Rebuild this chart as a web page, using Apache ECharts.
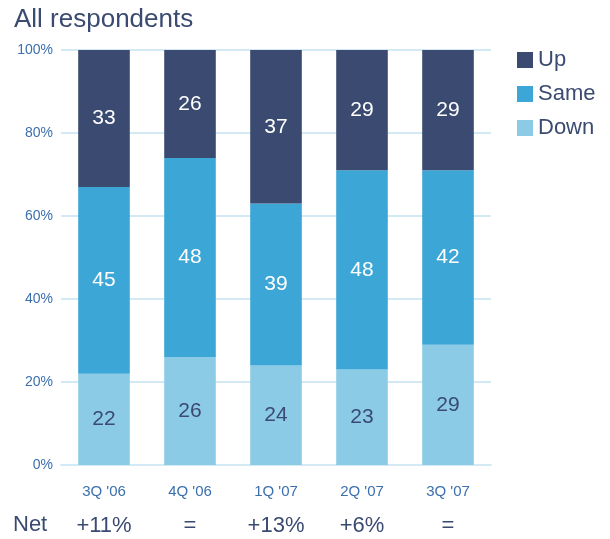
<!DOCTYPE html>
<html>
<head>
<meta charset="utf-8">
<style>
  html, body { margin: 0; padding: 0; background: #fff; }
  #chart { width: 610px; height: 539px; }
</style>
<script src="https://cdn.jsdelivr.net/npm/echarts@6/dist/echarts.min.js"></script>
</head>
<body>
<div id="chart"></div>
<script>
// Quarterly survey: share of respondents answering Up / Same / Down
const quarters = ["3Q '06", "4Q '06", "1Q '07", "2Q '07", "3Q '07"];
const down = [22, 26, 24, 23, 29];
const same = [45, 48, 39, 48, 42];
const up = [33, 26, 37, 29, 29];
const net = ['+11%', '=', '+13%', '+6%', '='];
const yTicks = [0, 20, 40, 60, 80, 100];

const FONT = 'Liberation Sans, Arial, sans-serif';
const DARK = '#3a4a70';
const AXIS_BLUE = '#3c6fae';

const chart = echarts.init(document.getElementById('chart'));

function barSeries(name, values, color, labelColor) {
  return {
    name: name,
    type: 'bar',
    stack: 'total',
    data: values,
    barCategoryGap: '40%',
    itemStyle: { color: color },
    label: {
      show: true,
      position: 'inside',
      color: labelColor,
      fontFamily: FONT,
      fontSize: 21
    },
    emphasis: { disabled: true }
  };
}

chart.setOption({
  animation: false,
  title: {
    text: 'All respondents',
    left: 14,
    top: 7,
    padding: 0,
    textStyle: { color: DARK, fontFamily: FONT, fontSize: 26, fontWeight: 'normal' }
  },
  legend: {
    orient: 'vertical',
    left: 517,
    top: 49,
    padding: 0,
    itemWidth: 16,
    itemHeight: 16,
    itemGap: 12,
    icon: 'rect',
    selectedMode: false,
    data: ['Up', 'Same', 'Down'],
    textStyle: { color: DARK, fontFamily: FONT, fontSize: 22 }
  },
  grid: { left: 61, right: 119, top: 50, bottom: 74 },
  xAxis: [
    {
      type: 'category',
      data: quarters,
      axisLine: { show: true, lineStyle: { color: '#d3eaf5', width: 2 } },
      axisTick: { show: false },
      axisLabel: { color: AXIS_BLUE, fontFamily: FONT, fontSize: 15, margin: 19 }
    },
    {
      type: 'category',
      position: 'bottom',
      offset: 50,
      data: net,
      axisLine: { show: false },
      axisTick: { show: false },
      axisLabel: { color: DARK, fontFamily: FONT, fontSize: 22, margin: 0 }
    }
  ],
  yAxis: {
    type: 'value',
    min: yTicks[0],
    max: yTicks[yTicks.length - 1],
    interval: yTicks[1] - yTicks[0],
    axisLine: { show: false },
    axisTick: { show: false },
    axisLabel: {
      color: AXIS_BLUE,
      fontFamily: FONT,
      fontSize: 14,
      margin: 8,
      formatter: v => v + '%'
    },
    splitLine: { lineStyle: { color: '#d3eaf5', width: 2 } }
  },
  graphic: [
    {
      type: 'text',
      left: 13,
      top: 514,
      style: { text: 'Net', fill: DARK, font: '22px ' + FONT }
    }
  ],
  series: [
    barSeries('Down', down, '#8ccbe6', DARK),
    barSeries('Same', same, '#3ca6d6', '#ffffff'),
    barSeries('Up', up, '#3a4a70', '#ffffff')
  ]
});
</script>
</body>
</html>
